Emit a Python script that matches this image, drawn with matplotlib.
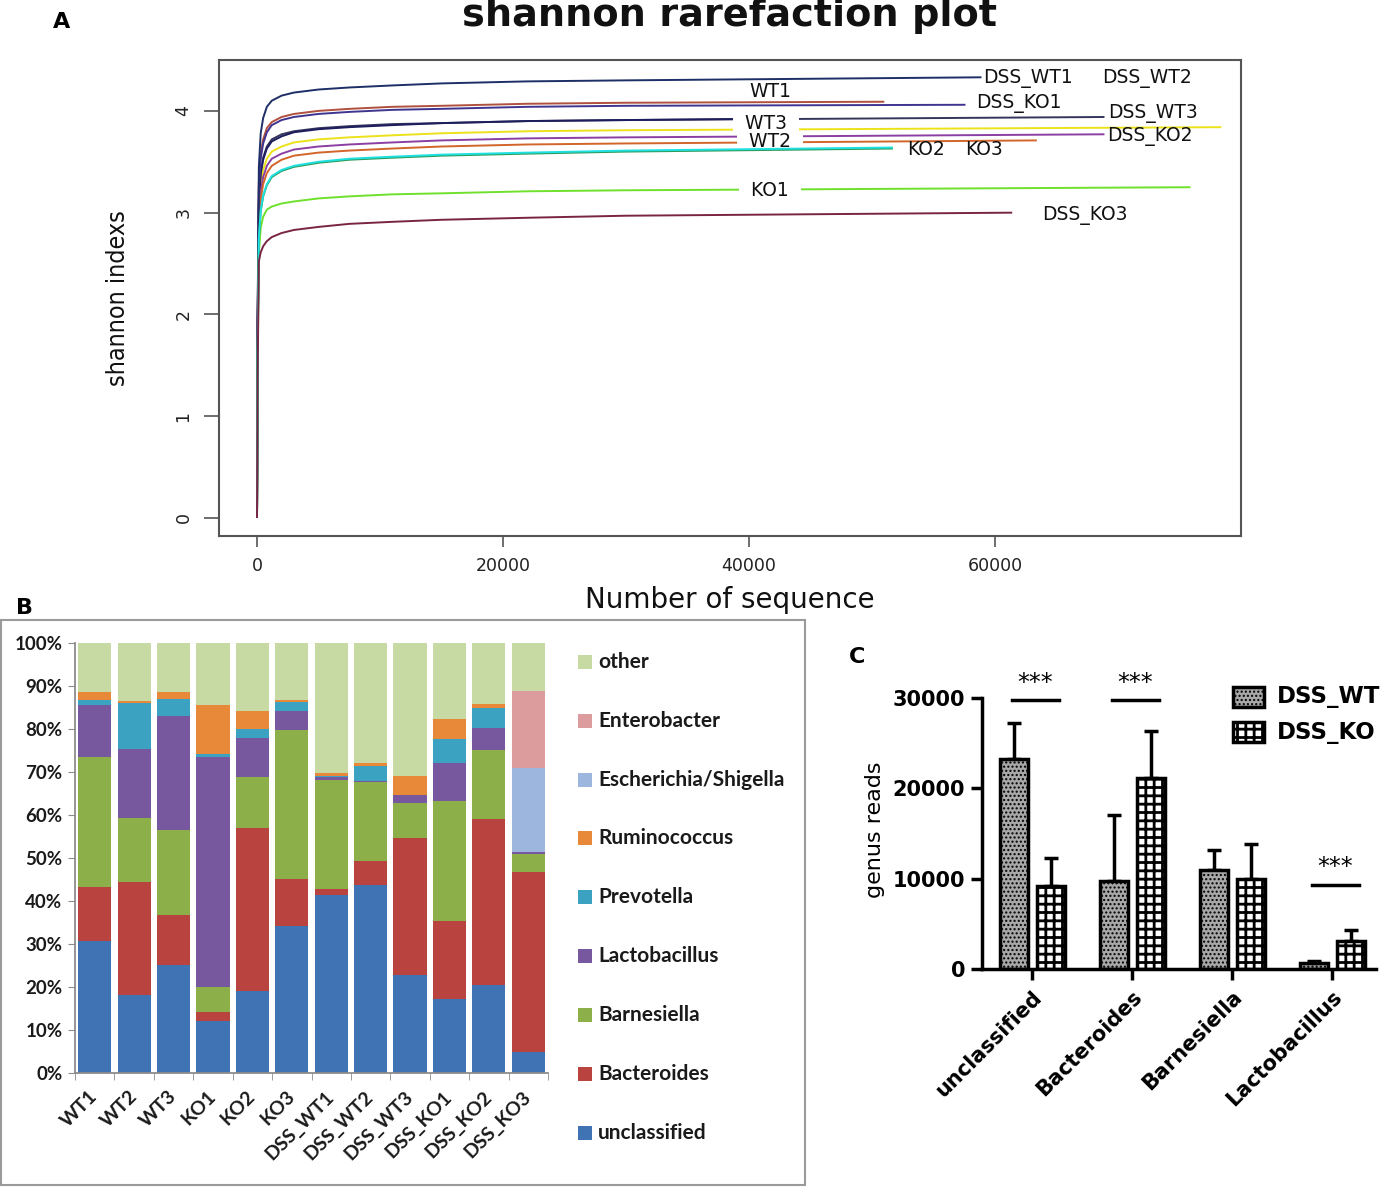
import matplotlib
matplotlib.use('Agg')
import matplotlib.pyplot as plt
import numpy as np
from matplotlib.patches import Rectangle
from matplotlib import font_manager
from matplotlib.font_manager import FontProperties

_fl = font_manager.fontManager.ttflist
_names = {f.name for f in _fl}
LATO = 'Lato' if 'Lato' in _names else 'DejaVu Sans'
_cond = [f for f in _fl if (('Narrow' in f.name or 'Condensed' in f.name or
                             str(f.stretch) in ('condensed', 'semi-condensed'))
                            and f.style == 'normal' and f.weight in (400, 'normal', 'regular'))]
NARROW_FP = FontProperties(fname=_cond[0].fname) if _cond else FontProperties(family='DejaVu Sans')
plt.rcParams['font.family'] = ['DejaVu Sans']

# ---------------- Panel A data (rarefaction curves) ----------------
seq_grid = [0, 50, 150, 300, 500, 800, 1200, 2000, 3000, 5000, 7500, 11000, 15000, 22000, 30000]
DSS_WT1 = [0, 2.0, 3.45, 3.78, 3.93, 4.04, 4.10, 4.15, 4.18, 4.21, 4.23, 4.25, 4.27, 4.29, 4.30]
WT1 = [0, 1.9, 3.30, 3.58, 3.72, 3.83, 3.89, 3.94, 3.97, 4.00, 4.02, 4.04, 4.05, 4.07, 4.08]
DSS_KO1 = [0, 1.9, 3.25, 3.53, 3.68, 3.79, 3.86, 3.91, 3.94, 3.97, 3.99, 4.01, 4.02, 4.04, 4.05]
WT3 = [0, 1.8, 3.10, 3.38, 3.52, 3.63, 3.70, 3.75, 3.79, 3.82, 3.84, 3.86, 3.88, 3.90, 3.91]
DSS_WT3 = [0, 1.8, 3.12, 3.40, 3.54, 3.65, 3.72, 3.77, 3.80, 3.83, 3.85, 3.87, 3.88, 3.90, 3.91]
DSS_WT2 = [0, 1.8, 3.00, 3.28, 3.42, 3.53, 3.60, 3.65, 3.69, 3.72, 3.74, 3.76, 3.78, 3.80, 3.81]
DSS_KO2 = [0, 1.7, 2.92, 3.20, 3.35, 3.46, 3.53, 3.58, 3.62, 3.65, 3.67, 3.69, 3.71, 3.73, 3.74]
WT2 = [0, 1.7, 2.85, 3.13, 3.28, 3.39, 3.46, 3.52, 3.56, 3.59, 3.61, 3.63, 3.65, 3.67, 3.68]
KO2 = [0, 1.6, 2.75, 3.02, 3.17, 3.28, 3.36, 3.42, 3.46, 3.50, 3.53, 3.55, 3.57, 3.59, 3.61]
KO3 = [0, 1.6, 2.74, 3.01, 3.16, 3.27, 3.35, 3.41, 3.45, 3.49, 3.52, 3.54, 3.56, 3.58, 3.60]
KO1 = [0, 1.5, 2.60, 2.85, 2.96, 3.03, 3.06, 3.09, 3.11, 3.14, 3.16, 3.18, 3.19, 3.21, 3.22]
DSS_KO3 = [0, 1.4, 2.52, 2.61, 2.67, 2.72, 2.76, 2.80, 2.83, 2.86, 2.89, 2.91, 2.93, 2.95, 2.97]
# final (end) point of each curve: total sequences and shannon index
end_seq = {'DSS_WT1': 58900, 'WT1': 51000, 'DSS_KO1': 57600, 'WT3': 38800,
           'DSS_WT3': 68900, 'DSS_WT2': 78400, 'DSS_KO2': 68900, 'WT2': 63400,
           'KO2': 51700, 'KO3': 51700, 'KO1': 75900, 'DSS_KO3': 61400}
end_val = {'DSS_WT1': 4.33, 'WT1': 4.09, 'DSS_KO1': 4.06, 'WT3': 3.92,
           'DSS_WT3': 3.94, 'DSS_WT2': 3.84, 'DSS_KO2': 3.77, 'WT2': 3.71,
           'KO2': 3.64, 'KO3': 3.63, 'KO1': 3.25, 'DSS_KO3': 3.00}

# ---------------- Panel B data (genus composition, %) ----------------
samples = ['WT1', 'WT2', 'WT3', 'KO1', 'KO2', 'KO3',
           'DSS_WT1', 'DSS_WT2', 'DSS_WT3', 'DSS_KO1', 'DSS_KO2', 'DSS_KO3']
unclassified = [30.6, 18.2, 25.2, 12.2, 19.1, 34.3, 41.3, 43.7, 22.8, 17.2, 20.4, 5.0]
bacteroides = [12.7, 26.2, 11.6, 1.9, 37.9, 10.9, 1.6, 5.6, 31.8, 18.2, 38.7, 41.8]
barnesiella = [30.1, 15.0, 19.7, 5.8, 11.8, 34.5, 25.2, 18.4, 8.3, 27.8, 16.1, 4.1]
lactobacillus = [12.2, 15.9, 26.5, 53.6, 9.1, 4.4, 0.8, 0.3, 1.8, 8.8, 5.1, 0.6]
prevotella = [1.1, 10.8, 4.0, 0.6, 2.1, 2.1, 0.2, 3.4, 0.0, 5.7, 4.7, 0.0]
ruminococcus = [1.8, 0.4, 1.5, 11.5, 4.2, 0.5, 0.7, 0.6, 4.4, 4.7, 0.8, 0.0]
escherichia = [0, 0, 0, 0, 0, 0, 0, 0, 0, 0, 0, 19.5]
enterobacter = [0, 0, 0, 0, 0, 0, 0, 0, 0, 0, 0, 17.9]
other = [11.5, 13.5, 11.5, 14.4, 15.8, 13.3, 30.2, 28.0, 30.9, 17.6, 14.2, 11.1]

# ---------------- Panel C data (genus reads) ----------------
genera = ['unclassified', 'Bacteroides', 'Barnesiella', 'Lactobacillus']
dss_wt_mean = [23280, 9700, 11000, 660]
dss_wt_sd = [3950, 7380, 2210, 190]
dss_ko_mean = [9150, 21140, 9960, 3060]
dss_ko_sd = [3140, 5170, 3910, 1290]
sig_index = [0, 1, 3]
sig_line_y = [29800, 29800, 9340]

W, H = 1389, 1187
fig = plt.figure(figsize=(W / 100, H / 100), dpi=100)
def fx(px): return px / W
def fy(py): return 1 - py / H

# ================= Panel A =================
axA = fig.add_axes([fx(219), fy(536), (1241 - 219) / W, (536 - 60) / H])
curves = [('DSS_WT2', DSS_WT2, '#ece21a', 2), ('DSS_WT3', DSS_WT3, '#35355c', 2),
          ('WT3', WT3, '#1e1e5e', 2), ('DSS_KO2', DSS_KO2, '#8c3fa2', 2),
          ('WT2', WT2, '#d2652a', 2), ('WT1', WT1, '#b0503e', 2),
          ('DSS_KO1', DSS_KO1, '#3f3590', 2), ('DSS_WT1', DSS_WT1, '#1d2f66', 2),
          ('KO3', KO3, '#2e9a5a', 3), ('KO2', KO2, '#1ee0e0', 3),
          ('KO1', KO1, '#6fe02c', 2), ('DSS_KO3', DSS_KO3, '#7a2444', 3)]
for name, ys, col, z in curves:
    axA.plot(seq_grid + [end_seq[name]], ys + [end_val[name]], color=col, lw=1.4,
             zorder=z, solid_capstyle='butt', solid_joinstyle='round')
axA.set_xlim(-3090, 80000)
axA.set_ylim(-0.177, 4.50)
axA.set_xticks([0, 20000, 40000, 60000])
axA.set_yticks([0, 1, 2, 3, 4])
for s in axA.spines.values():
    s.set_color('#555555'); s.set_linewidth(1.5)
axA.tick_params(axis='y', length=11, width=1.2, color='#555555', pad=8, labelsize=12.5,
                labelcolor='#222222')
axA.tick_params(axis='x', length=8, width=1.2, color='#555555', pad=7, labelsize=12.5,
                labelcolor='#222222')
for t in axA.get_yticklabels():
    t.set_rotation(90); t.set_va('center')

a_labels = [('DSS_WT1', 59000, 4.32, 'left', False), ('DSS_WT2', 68700, 4.32, 'left', False),
            ('WT1', 41700, 4.19, 'center', False), ('DSS_KO1', 58500, 4.07, 'left', False),
            ('DSS_WT3', 69200, 3.97, 'left', False), ('  WT3  ', 41400, 3.875, 'center', True),
            ('  WT2  ', 41700, 3.695, 'center', True), ('DSS_KO2', 69100, 3.75, 'left', False),
            ('KO2', 52850, 3.62, 'left', False), ('KO3', 57560, 3.62, 'left', False),
            ('  KO1  ', 41700, 3.22, 'center', True), ('DSS_KO3', 63800, 2.97, 'left', False)]
for txt, x, y, ha, box in a_labels:
    kw = dict(bbox=dict(boxstyle='square,pad=0.0', facecolor='white', edgecolor='none')) if box else {}
    axA.text(x, y, txt, ha=ha, va='center', fontsize=13.5, color='#111111', zorder=2.5, **kw)

fig.text(fx(730), fy(26), 'shannon rarefaction plot', ha='center', va='baseline',
         fontsize=27.5, fontweight='bold', color='#111111')
fig.text(fx(730), fy(600), 'Number of sequence', ha='center', va='center', fontsize=20,
         color='#111111')
fig.text(fx(118), fy(298), 'shannon indexs', ha='center', va='center', rotation=90,
         fontproperties=NARROW_FP, fontsize=18, color='#111111')
fig.text(fx(62), fy(22), 'A', ha='center', va='center', fontsize=16, fontweight='bold')
fig.text(fx(25), fy(608), 'B', ha='center', va='center', fontsize=16, fontweight='bold')
fig.text(fx(857), fy(657), 'C', ha='center', va='center', fontsize=16, fontweight='bold')

# ================= Panel B =================
fig.add_artist(Rectangle((fx(1), fy(1185)), 804 / W, 565 / H, transform=fig.transFigure,
                         fill=False, edgecolor='#9a9a9a', lw=1.5))
axB = fig.add_axes([fx(75), fy(1073), 473 / W, 430 / H])
stack = [('unclassified', unclassified, '#4073b3'), ('Bacteroides', bacteroides, '#b9433f'),
         ('Barnesiella', barnesiella, '#8daf4a'), ('Lactobacillus', lactobacillus, '#77589f'),
         ('Prevotella', prevotella, '#3ba3c1'), ('Ruminococcus', ruminococcus, '#e8893a'),
         ('Escherichia/Shigella', escherichia, '#9cb6dd'), ('Enterobacter', enterobacter, '#dc9b9c'),
         ('other', other, '#c8daa3')]
xb = np.arange(len(samples))
bottom = np.zeros(len(samples))
for name, vals, col in stack:
    axB.bar(xb, vals, 0.84, bottom=bottom, color=col, lw=0)
    bottom = bottom + np.array(vals)
axB.set_xlim(-0.5, 11.5)
axB.set_ylim(0, 100)
axB.set_yticks(np.arange(0, 101, 10))
axB.set_yticklabels([f'{v}%' for v in range(0, 101, 10)])
axB.set_xticks(xb)
axB.set_xticks(np.arange(-0.5, 12, 1), minor=True)
axB.set_xticklabels(samples, rotation=45, ha='right', va='center', rotation_mode='anchor')
for s in ['top', 'right']:
    axB.spines[s].set_visible(False)
for s in ['left', 'bottom']:
    axB.spines[s].set_color('#8c8c8c'); axB.spines[s].set_linewidth(1.3)
axB.tick_params(axis='y', length=5, color='#8c8c8c', pad=4)
axB.tick_params(axis='x', which='major', length=0, pad=15)
axB.tick_params(axis='x', which='minor', length=5, color='#8c8c8c')
for t in axB.get_yticklabels():
    t.set_family(LATO); t.set_fontweight('bold'); t.set_fontsize(13.5); t.set_color('#1a1a1a')
for t in axB.get_xticklabels():
    t.set_family(LATO); t.set_fontweight('bold'); t.set_fontsize(14); t.set_color('#1a1a1a')

for i, (name, vals, col) in enumerate(stack[::-1]):
    yc = 661.7 + i * 58.9
    fig.add_artist(Rectangle((fx(578), fy(yc + 7)), 14 / W, 14 / H, transform=fig.transFigure,
                             facecolor=col, edgecolor='none'))
    fig.text(fx(598), fy(yc), name, ha='left', va='center', fontsize=15, family=LATO,
             fontweight='bold', color='#1a1a1a')

# ================= Panel C =================
axC = fig.add_axes([fx(982), fy(969), 394 / W, 271 / H])
xc = np.arange(len(genera))
off, bw = 0.185, 0.28
WT_HL, KO_HL = 1.0, 2.0
with plt.rc_context({'hatch.linewidth': WT_HL}):
    wt_bars = axC.bar(xc - off, dss_wt_mean, bw, facecolor='#a8a8a8', edgecolor='black', lw=2.5,
                      hatch='....', zorder=2)
with plt.rc_context({'hatch.linewidth': KO_HL}):
    ko_bars = axC.bar(xc + off, dss_ko_mean, bw, facecolor='white', edgecolor='black', lw=2.5,
                      hatch='++', zorder=2)
for bars, lw in ((wt_bars, WT_HL), (ko_bars, KO_HL)):
    for p in bars:
        if hasattr(p, 'set_hatch_linewidth'):
            p.set_hatch_linewidth(lw)
axC.errorbar(xc - off, dss_wt_mean, yerr=[np.zeros(4), dss_wt_sd], fmt='none', ecolor='black',
             elinewidth=2.5, capsize=5, capthick=2.5, zorder=1, clip_on=False)
axC.errorbar(xc + off, dss_ko_mean, yerr=[np.zeros(4), dss_ko_sd], fmt='none', ecolor='black',
             elinewidth=2.5, capsize=5, capthick=2.5, zorder=1, clip_on=False)
for gi, ly in zip(sig_index, sig_line_y):
    axC.plot([gi - 0.2, gi + 0.27], [ly, ly], color='black', lw=2.5, clip_on=False)
    axC.text(gi + 0.035, ly + 1900, '***', ha='center', va='center', fontsize=17,
             clip_on=False)
axC.set_xlim(-0.5, 3.44)
axC.set_ylim(0, 30000)
axC.set_yticks([0, 10000, 20000, 30000])
axC.set_xticks(xc)
axC.set_xticklabels(genera, rotation=45, ha='right', rotation_mode='anchor')
for s in ['top', 'right']:
    axC.spines[s].set_visible(False)
for s in ['left', 'bottom']:
    axC.spines[s].set_linewidth(2.5)
axC.tick_params(axis='both', length=8, width=2.5, color='black', labelsize=15)
axC.tick_params(axis='y', pad=4)
axC.tick_params(axis='x', pad=5)
for t in axC.get_yticklabels() + axC.get_xticklabels():
    t.set_fontweight('bold')
fig.text(fx(875), fy(830), 'genus reads', ha='center', va='center', rotation=90, fontsize=16)

for i, (lab, hatch, fc, hl) in enumerate([('DSS_WT', '....', '#a8a8a8', WT_HL),
                                           ('DSS_KO', '++', 'white', KO_HL)]):
    yc = 697 + i * 35
    with plt.rc_context({'hatch.linewidth': hl}):
        r = Rectangle((fx(1233), fy(yc + 10)), 31 / W, 20 / H, transform=fig.transFigure,
                      facecolor=fc, edgecolor='black', lw=2.5, hatch=hatch)
    if hasattr(r, 'set_hatch_linewidth'):
        r.set_hatch_linewidth(hl)
    fig.add_artist(r)
    fig.text(fx(1277), fy(yc), lab, ha='left', va='center', fontsize=16.5, fontweight='bold')

fig.savefig('out.png', dpi=100)
